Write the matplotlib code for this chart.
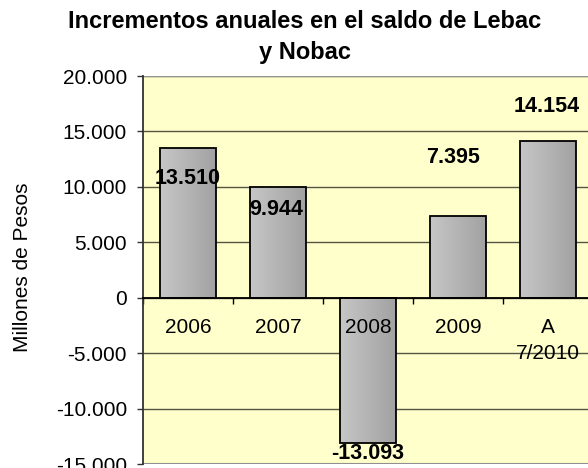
import matplotlib.pyplot as plt
from matplotlib.colors import LinearSegmentedColormap
import numpy as np

# data
categories = ['2006', '2007', '2008', '2009', 'A\n7/2010']
values = [13510, 9944, -13093, 7395, 14154]
value_labels = ['13.510', '9.944', '-13.093', '7.395', '14.154']
y_ticks = [-15000, -10000, -5000, 0, 5000, 10000, 15000, 20000]
y_tick_labels = ['-15.000', '-10.000', '-5.000', '0', '5.000', '10.000', '15.000', '20.000']

plt.rcParams['font.family'] = ['Liberation Sans', 'DejaVu Sans']

fig = plt.figure(figsize=(5.88, 4.68), dpi=100)
fig.patch.set_facecolor('white')
ax = fig.add_axes([143 / 588, 4 / 468, 450 / 588, 388 / 468])
ax.set_facecolor('#FFFFCC')

x = np.arange(len(categories))
bars = ax.bar(x, values, width=0.62, facecolor='none', edgecolor='black',
              linewidth=1.3, zorder=2)

# gradient fill inside each bar
grad = np.linspace(0, 1, 64).reshape(1, -1)
cmap = LinearSegmentedColormap.from_list('g', ['#C6C6C6', '#A2A2A2'])
for b in bars:
    x0, y0 = b.get_x(), b.get_y()
    w, h = b.get_width(), b.get_height()
    ax.imshow(grad, extent=[x0, x0 + w, min(y0, y0 + h), max(y0, y0 + h)],
              cmap=cmap, aspect='auto', zorder=1.5, interpolation='bilinear')

ax.set_xlim(-0.5, len(categories) - 0.5)
ax.set_ylim(-15000, 20000)

# gridlines
for t in y_ticks:
    ax.axhline(t, color='#555544', linewidth=1, zorder=0.5)
ax.axhline(20000, color='#909090', linewidth=1.5, zorder=0.6)
ax.axhline(-15000, color='#909090', linewidth=1.5, zorder=0.6)

# value labels (Excel-like placement)
offsets = [(0, -22), (-1, -16), (0, -8), (-3.5, 42), (-1, 24.5)]
for b, lab, off in zip(bars, value_labels, offsets):
    top = b.get_y() + b.get_height()
    ax.annotate(lab, (b.get_x() + b.get_width() / 2, top), xytext=off,
                textcoords='offset points', ha='center', va='center',
                fontsize=15.5, fontweight='bold', zorder=5)

# axes styling
for s in ['top', 'right']:
    ax.spines[s].set_visible(False)
ax.spines['left'].set_color('#333333')
ax.spines['left'].set_linewidth(1.3)
ax.spines['bottom'].set_position(('data', 0))
ax.spines['bottom'].set_color('black')
ax.spines['bottom'].set_linewidth(1.3)
ax.spines['bottom'].set_zorder(3)

ax.set_yticks(y_ticks)
ax.set_yticklabels(y_tick_labels, fontsize=15)
ax.tick_params(axis='y', length=4.5, width=1, pad=7, color='#333333')

ax.set_xticks(x)
ax.set_xticklabels(categories, fontsize=15, va='top', linespacing=1.45)
ax.set_xticks(np.arange(len(categories) + 1) - 0.5, minor=True)
ax.tick_params(axis='x', which='major', length=0, pad=14.5)
ax.tick_params(axis='x', which='minor', length=4, width=1, direction='out')
for lab in ax.get_xticklabels():
    lab.set_zorder(4)

fig.text(23 / 588, 1 - 267 / 468, 'Millones de Pesos', rotation=90,
         ha='center', va='center', fontsize=15)

fig.text(305 / 588, 1 - 22 / 468, 'Incrementos anuales en el saldo de Lebac',
         ha='center', va='center', fontsize=17, fontweight='bold')
fig.text(305 / 588, 1 - 52 / 468, 'y Nobac',
         ha='center', va='center', fontsize=17, fontweight='bold')

fig.savefig('out.png', dpi=100)
